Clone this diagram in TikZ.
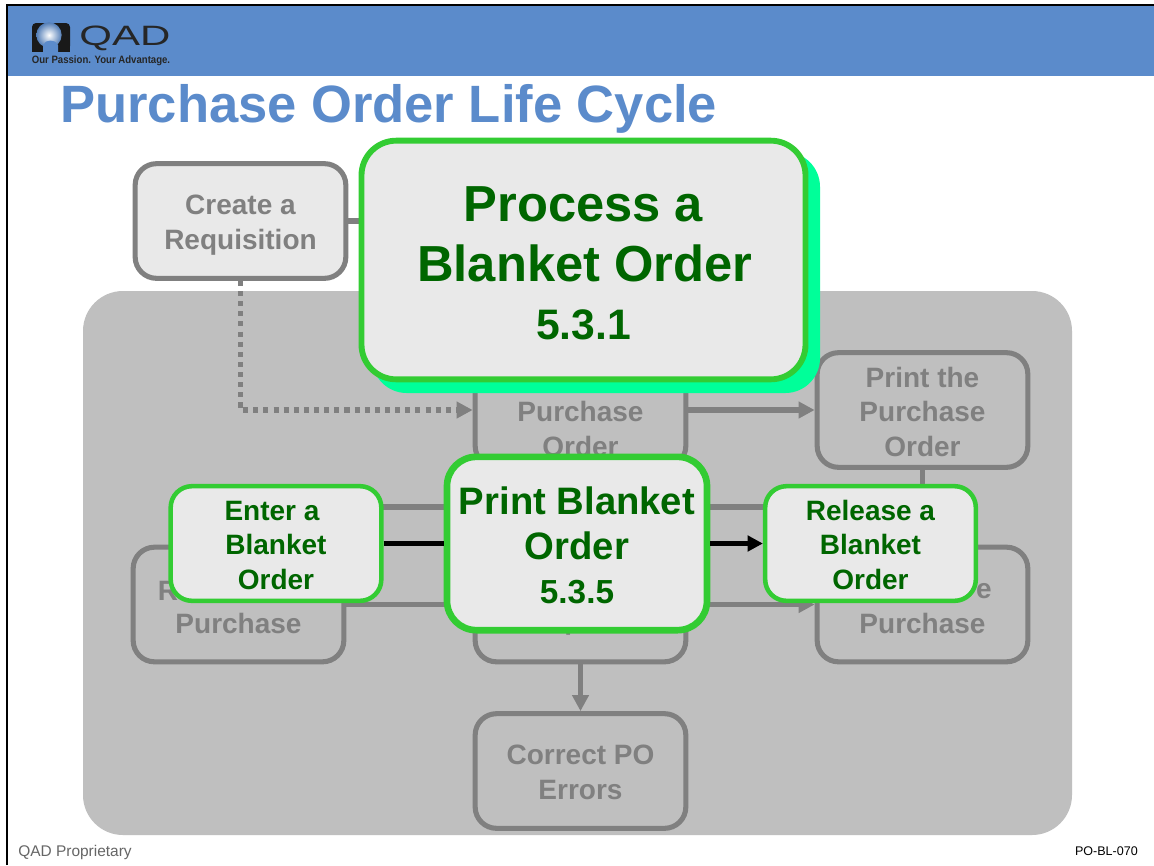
\documentclass[tikz,border=0pt]{standalone}
\usepackage{fontspec}
\setmainfont{Liberation Sans}
\usetikzlibrary{arrows.meta}
\definecolor{bandblue}{HTML}{5B8BCB}
\definecolor{panelgray}{HTML}{BFBFBF}
\definecolor{boxgray}{HTML}{E9E9E9}
\definecolor{linegray}{HTML}{808080}
\definecolor{boxgreen}{HTML}{33CC33}
\definecolor{textgreen}{HTML}{006600}
\definecolor{shadowgreen}{HTML}{00FF99}
\newcommand{\toprule}[1]{\rule{0pt}{#1pt}}
\tikzset{
  procbox/.style={draw=linegray, line width=3.8pt, rounded corners=16pt, minimum width=158pt,
    minimum height=86pt, inner sep=0pt, align=center, text=linegray,
    font=\fontsize{21}{26}\selectfont\bfseries},
  greenbox/.style={draw=boxgreen, fill=boxgray, line width=3.4pt, rounded corners=16pt, inner sep=0pt,
    align=center, text=textgreen, font=\fontsize{21}{26}\selectfont\bfseries},
  procline/.style={draw=linegray, line width=3.8pt},
  procarrow/.style={procline, -{Triangle[length=12pt,width=12pt]}},
  hidetext/.style={text=linegray, inner sep=0pt, font=\fontsize{21}{26}\selectfont\bfseries}
}
\begin{document}
\begin{tikzpicture}[x=0.75pt, y=-0.75pt]
      \useasboundingbox (0,0) rectangle (1154,865);
      % header
      \fill[white] (0,0) rectangle (1154,865);
      \fill[bandblue] (7,5) rectangle (1154,76);
      \draw[black, line width=2pt] (7,865)--(7,5)--(1154,5);
      \fill[black!90, rounded corners=3pt] (32,23) rectangle (70,50);
      \fill[black!90] (32,44) rectangle (43,52);
      \fill[black!90] (58,44) rectangle (70,52);
      \shade[inner color=white, outer color=bandblue!90!black] (49,35) circle (9.5pt);
      \fill[bandblue] (43,52) -- (43,45) .. controls (45,39) and (56,39) .. (58,45) -- (58,52) -- cycle;
      \node[inner sep=0pt, xscale=1.5, font=\fontsize{21}{21}\selectfont, text=black!85] (qadlogo) at (125,38) {QAD};
      \node[inner sep=0pt, xscale=0.9, font=\fontsize{8}{8}\selectfont\bfseries, text=black!85] (tagline) at (101,61) {Our Passion. Your Advantage.};
      \node[inner sep=0pt, anchor=west, text=bandblue, font=\fontsize{39.4}{40}\selectfont\bfseries] (title) at (60,108.5) {Purchase Order Life Cycle};
      % panel and the faded flow
      \fill[panelgray, rounded corners=30pt] (83,291) rectangle (1072,835);
      \node[procbox, fill=boxgray] (requisition) at (240.5,221) {\toprule{21}Create a\\Requisition};
      \node[procbox] (purchaseorder) at (580.5,410) {\toprule{18}\\Purchase\\Order};
      \node[procbox] (printorder) at (922.5,410) {\toprule{18}Print the\\Purchase\\Order};
      \node[procbox] (lowerleft) at (238.5,604.5) {\toprule{18}\\Purchase};
      \node[procbox] (lowermid) at (580.5,604.5) {};
      \node[procbox] (lowerright) at (922.5,604.5) {\toprule{18}\\Purchase};
      \node[procbox] (correct) at (580.5,771) {\toprule{17}Correct PO\\Errors};
      \node[hidetext] (leftstub) at (168,591) {R};
      \node[hidetext] (rightstub) at (984,591) {e};
      \node[hidetext] (midstub) at (573,625) {p};
      \coordinate (reqend) at (400,221);
      \coordinate (elbowright) at (922.5,507);
      \coordinate (elbowleft) at (238.5,507);
      \coordinate (dotcorner) at (240.5,410);
      \draw[procline] (requisition.east)--(reqend);
      \draw[procarrow, dotted, line width=3.8pt, dash pattern=on 3.8pt off 3.8pt] (requisition.south)--(dotcorner)--(purchaseorder.west);
      \draw[procarrow] (purchaseorder.east)--(printorder.west);
      \draw[procarrow] (printorder.south)--(elbowright)--(elbowleft)--(lowerleft.north);
      \draw[procline] (lowerleft.east)--(lowermid.west);
      \draw[procarrow] (lowermid.east)--(lowerright.west);
      \draw[procarrow] (lowermid.south)--(correct.north);
      % highlighted steps
      \node[greenbox, minimum width=158pt, minimum height=86pt] (enterorder) at (276,543.5) {\toprule{17}Enter a\hspace*{6pt}\\Blanket\hspace*{6pt}\\Order};
      \node[greenbox, minimum width=158pt, minimum height=86pt] (releaseorder) at (870.5,543.5) {\toprule{17}Release a\\Blanket\\Order};
      \node[greenbox, line width=5pt, rounded corners=22pt, minimum width=195pt, minimum height=130pt,
        font=\fontsize{28.7}{33.8}\selectfont\bfseries] (printblanket) at (577,543.5)
        {\toprule{24}Print Blanket\\Order\\[-1pt]\fontsize{25}{33.8}\selectfont 5.3.5};
      \draw[black, line width=4.4pt] (enterorder.east)--(printblanket.west);
      \draw[black, line width=4.4pt, -{Triangle[length=11.5pt,width=11.5pt]}] (printblanket.east)--(releaseorder.west);
      \fill[shadowgreen, rounded corners=26pt] (372,152) rectangle (820,393);
      \node[greenbox, line width=4.4pt, rounded corners=26pt, minimum width=333pt, minimum height=179pt,
        font=\fontsize{38}{43}\selectfont\bfseries] (processblanket) at (583.5,260)
        {\toprule{31}Process a\\[2pt]\hspace*{2pt}Blanket Order\\\fontsize{32}{43}\selectfont 5.3.1};
      % footer
      \node[inner sep=0pt, anchor=west, text=black!60, font=\fontsize{11.6}{12}\selectfont] (proprietary) at (18,852) {QAD Proprietary};
      \node[inner sep=0pt, anchor=east, text=black, font=\fontsize{9.4}{10}\selectfont] (slidecode) at (1138,851) {PO-BL-070};
\end{tikzpicture}
\end{document}
